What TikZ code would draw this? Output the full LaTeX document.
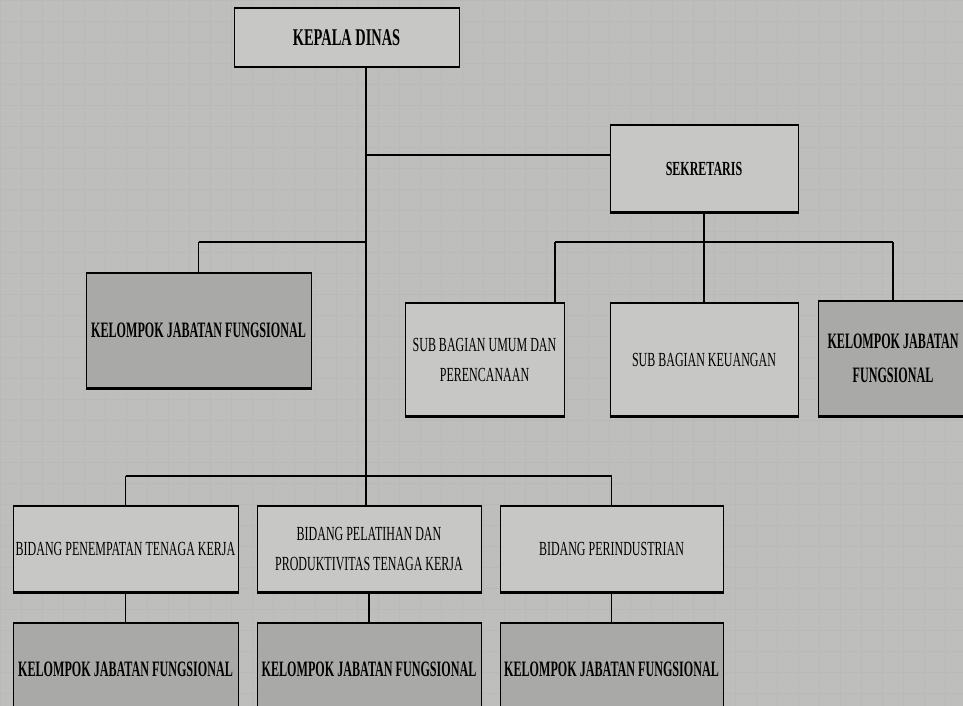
\documentclass[tikz,border=0pt]{standalone}
\usepackage{xcolor}
\usepackage{fontspec}
\setmainfont{Liberation Serif}
\newfontfamily\narrowserif[FakeStretch=0.6]{Liberation Serif}
\newfontfamily\narrowbold[FakeStretch=0.55]{Liberation Serif}
\usetikzlibrary{positioning}

\definecolor{paper}{RGB}{190,190,188}
\definecolor{unitfill}{RGB}{199,199,197}
\definecolor{jabfill}{RGB}{169,169,167}
\definecolor{gridline}{RGB}{185,185,184}

\begin{document}
\begin{tikzpicture}[x=1pt, y=-1pt,
        unit/.style={rectangle, draw=black, line width=1pt, fill=unitfill, align=center, inner sep=2pt,
            font=\narrowserif\fontsize{20}{30}\selectfont,
            path picture={
                \draw[line width=3pt] (path picture bounding box.north west) -- (path picture bounding box.north east);
                \draw[line width=4pt] (path picture bounding box.south west) -- (path picture bounding box.south east);}},
        jab/.style={unit, fill=jabfill, font=\narrowbold\bfseries\fontsize{22}{34}\selectfont},
        link/.style={draw=black, line width=1.2pt},
        bar/.style={draw=black, line width=2.6pt}
    ]
        \fill[paper] (0,0) rectangle (963,706);
        \useasboundingbox (0,0) rectangle (963,706);
        \draw[gridline, line width=0.4pt, step=21pt] (0,0) grid (963,706);

        % top
        \node[unit, minimum width=225pt, minimum height=60pt, font=\narrowserif\bfseries\fontsize{24}{30}\selectfont] (kadis) at (346.5,38) {KEPALA DINAS};
        \node[unit, minimum width=188pt, minimum height=88pt, font=\narrowserif\bfseries\fontsize{20}{30}\selectfont] (sekre) at (704,169) {SEKRETARIS};

        % middle row
        \node[jab, minimum width=225pt, minimum height=117pt] (jabkiri) at (198.5,330.5) {KELOMPOK JABATAN FUNGSIONAL};
        \node[unit, minimum width=159pt, minimum height=115pt] (umum) at (484.5,359.5) {SUB BAGIAN UMUM DAN\\PERENCANAAN};
        \node[unit, minimum width=188pt, minimum height=115pt] (keu) at (704,359.5) {SUB BAGIAN KEUANGAN};
        \node[jab, minimum width=150pt, minimum height=117pt] (jabkanan) at (893,358.5) {KELOMPOK JABATAN\\FUNGSIONAL};

        % bidang
        \node[unit, minimum width=225pt, minimum height=88pt] (bid1) at (125.5,549) {BIDANG PENEMPATAN TENAGA KERJA};
        \node[unit, minimum width=224pt, minimum height=88pt] (bid2) at (369,549) {BIDANG PELATIHAN DAN\\PRODUKTIVITAS TENAGA KERJA};
        \node[unit, minimum width=223pt, minimum height=88pt] (bid3) at (611.5,549) {BIDANG PERINDUSTRIAN};
        \node[jab, minimum width=225pt, minimum height=94pt] (jab1) at (125.5,669) {KELOMPOK JABATAN FUNGSIONAL};
        \node[jab, minimum width=224pt, minimum height=94pt] (jab2) at (369,669) {KELOMPOK JABATAN FUNGSIONAL};
        \node[jab, minimum width=223pt, minimum height=94pt] (jab3) at (611.5,669) {KELOMPOK JABATAN FUNGSIONAL};

        \coordinate (simpul) at (366,242);
        \coordinate (cabang) at (366,476);
        \coordinate (sekbar) at (704,242);
        \coordinate (barkiri) at (555,242);

        \draw[link] (kadis.south -| cabang) -- (cabang);
        \draw[bar] ([yshift=14pt]sekre.west) -- ([yshift=14pt]sekre.west -| cabang);
        \draw[link] (jabkiri.north) -- (jabkiri.north |- simpul);
        \draw[bar] (jabkiri.north |- simpul) -- (simpul);
        \draw[link] (sekre.south) -- (sekbar) -- (keu.north);
        \draw[bar] (barkiri) -- (barkiri -| jabkanan.north);
        \draw[link] (barkiri) -- (barkiri |- umum.north);
        \draw[link] (barkiri -| jabkanan.north) -- (jabkanan.north);
        \draw[bar] (cabang -| bid1.north) -- (cabang -| bid3.north);
        \draw[link] (cabang -| bid1.north) -- (bid1.north);
        \draw[link] (cabang) -- (cabang |- bid2.north);
        \draw[link] (cabang -| bid3.north) -- (bid3.north);
        \foreach \i in {1,2,3}
            \draw[link] (bid\i.south) -- (jab\i.north);
    \end{tikzpicture}
\end{document}
